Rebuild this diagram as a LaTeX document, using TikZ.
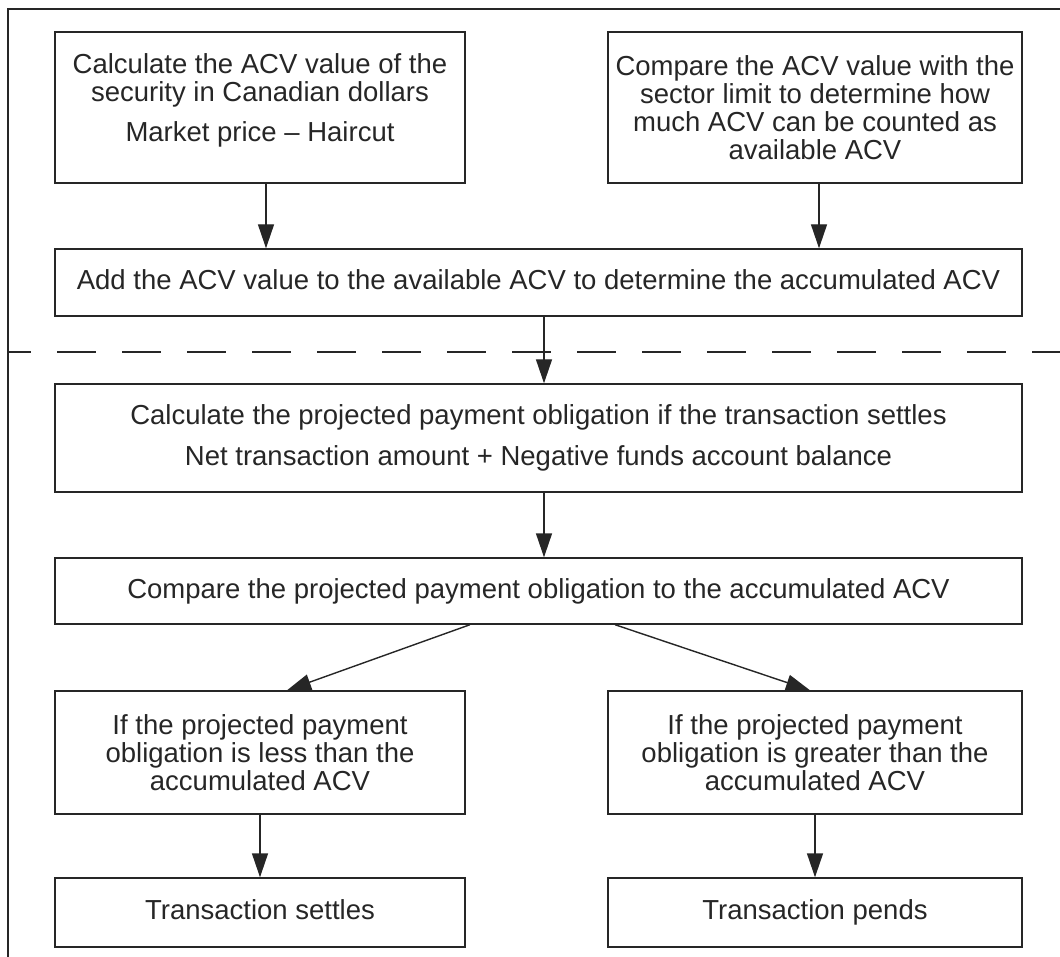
\documentclass[tikz,border=0pt]{standalone}
\usepackage{fontspec}
\setmainfont{Liberation Sans}
\usetikzlibrary{arrows.meta,calc}
\begin{document}
\begin{tikzpicture}[x=1pt,y=-1pt,
  box/.style={draw=black!85, line width=1.4pt, inner sep=0pt, align=center,
    font=\fontsize{27.5}{28}\selectfont, text=black!85},
  one/.style={text height=20pt, text depth=6pt},
  txt/.style={inner sep=0pt, align=center, font=\fontsize{27.5}{28}\selectfont, text=black!85},
  arr/.style={draw=black!85, line width=1.4pt, -{Triangle[length=24pt,width=16pt]}},
  frame/.style={draw=black!85, line width=1.4pt},
  sep/.style={draw=black!85, line width=1.4pt, dash pattern=on 39pt off 26pt, dash phase=16pt}
]
\useasboundingbox (0,0) rectangle (1060,957);
% frame
\coordinate (fr1) at (1060,9);
\coordinate (fr2) at (8,9);
\coordinate (fr3) at (8,957);
\draw[frame] (fr1) -- (fr2) -- (fr3);
% separator
\coordinate (s1) at (8,352);
\coordinate (s2) at (1060,352);
\draw[sep] (s1) -- (s2);

% boxes
\node[box, minimum width=410pt, minimum height=151pt] (tl) at (260,107.5) {};
\node[txt] (tlt) at (260,100) {Calculate the ACV value of the\\security in Canadian dollars\\[12pt]Market price -- Haircut};
\node[box, minimum width=414pt, minimum height=151pt] (tr) at (815,107.5)
  {Compare the ACV value with the\\sector limit to determine how\\much ACV can be counted as\\available ACV};
\node[box, one, minimum width=967pt, minimum height=67pt] (add) at (538.5,282.5)
  {Add the ACV value to the available ACV to determine the accumulated ACV};
\node[box, minimum width=967pt, minimum height=108pt] (proj) at (538.5,438)
  {Calculate the projected payment obligation if the transaction settles\\[13pt]Net transaction amount + Negative funds account balance};
\node[box, one, minimum width=967pt, minimum height=66pt] (cmp) at (538.5,591)
  {Compare the projected payment obligation to the accumulated ACV};
\node[box, minimum width=410pt, minimum height=123pt] (ll) at (260,752.5)
  {If the projected payment\\obligation is less than the\\accumulated ACV};
\node[box, minimum width=414pt, minimum height=123pt] (lr) at (815,752.5)
  {If the projected payment\\obligation is greater than the\\accumulated ACV};
\node[box, one, minimum width=410pt, minimum height=69pt] (bl) at (260,912.5)
  {Transaction settles};
\node[box, one, minimum width=414pt, minimum height=69pt] (br) at (815,912.5)
  {Transaction pends};

% connectors
\draw[arr] ([xshift=6pt]tl.south) -- ([xshift=6pt]tl.south |- add.north);
\draw[arr] ([xshift=4pt]tr.south) -- ([xshift=4pt]tr.south |- add.north);
\draw[arr] ([xshift=5.5pt]add.south) -- ([xshift=5.5pt]add.south |- proj.north);
\draw[arr] ([xshift=5.5pt]proj.south) -- ([xshift=5.5pt]proj.south |- cmp.north);
\draw[arr] ([xshift=-68.5pt]cmp.south) -- ([xshift=27pt]ll.north);
\draw[arr] ([xshift=76.5pt]cmp.south) -- ([xshift=-5pt]lr.north);
\draw[arr] (ll.south) -- (bl.north);
\draw[arr] (lr.south) -- (br.north);
\end{tikzpicture}
\end{document}
